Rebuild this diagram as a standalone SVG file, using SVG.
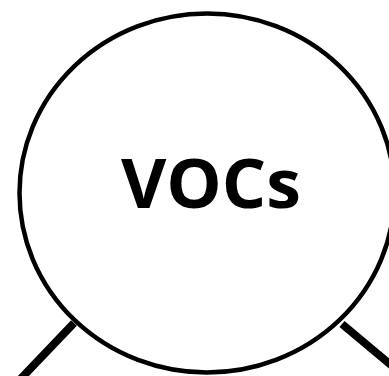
<svg xmlns="http://www.w3.org/2000/svg" width="389" height="376" viewBox="0 0 389 376">
  <style>
    .edge { stroke: #000; stroke-width: 8; fill: none; }
    .node { fill: #fff; stroke: #000; stroke-width: 4.5; }
    .label { font-family: "Open Sans", "Noto Sans", sans-serif; font-weight: bold; font-size: 68px; fill: #000; text-anchor: middle; }
  </style>
  <rect width="389" height="376" fill="#fff"/>
  <g id="connectors">
    <line class="edge" x1="74" y1="323" x2="10" y2="390"/>
    <line class="edge" x1="342" y1="324" x2="410" y2="381"/>
  </g>
  <g id="vocs">
    <ellipse class="node" cx="207" cy="193" rx="187.5" ry="179.5"/>
    <text class="label" x="211" y="208" textLength="180" lengthAdjust="spacingAndGlyphs">VOCs</text>
  </g>
</svg>
